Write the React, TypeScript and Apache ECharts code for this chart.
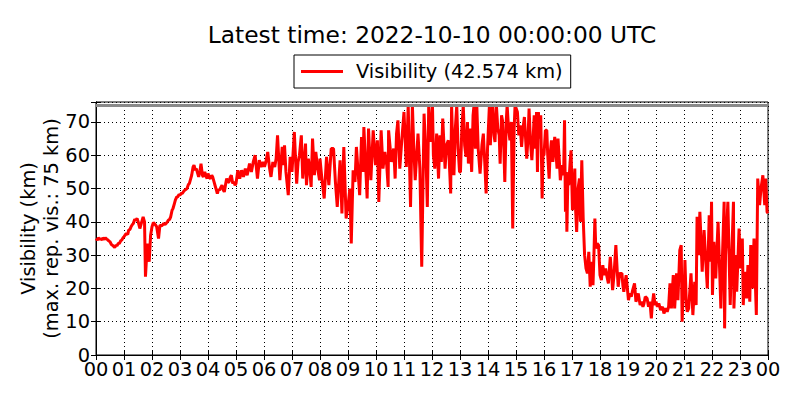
import { useEffect, useRef } from "react";
import * as echarts from "echarts";

// [minute within hour, visibility km]
const h00 = [[0,35],[3,34.5],[5,35.2],[8,34.7],[10,35],[13,34.6],[15,35.2],[18,34.7],[20,35.2],[23,34.8],[25,34.6],[28,34.2],[30,34],[33,33.2],[35,33],[38,32.6],[40,32.3],[43,33],[45,32.8],[48,33.6],[50,33.5],[53,34.3],[55,34.5],[58,35.2]];
const h01 = [[0,35.5],[3,36.2],[5,36.5],[8,36.2],[10,37.5],[13,37.8],[15,38.5],[18,39.2],[20,39.5],[23,40.8],[25,40.5],[28,41],[30,40.2],[34,38],[38,40],[41,41.5],[44,40],[46,23.5],[50,33.5],[54,28],[57,36]];
const h02 = [[0,38.5],[3,39.8],[5,39.5],[8,39],[10,38.5],[14,35],[17,39],[21,38.8],[25,39.5],[28,39.2],[30,39.5],[33,40],[35,40.5],[38,40.8],[40,41.5],[43,43.5],[45,44],[48,45.5],[50,46.5],[53,47.5],[55,47.5],[58,48.2]];
const h03 = [[0,48],[3,48.6],[5,48.5],[8,49.2],[10,49.5],[13,49.8],[15,50],[18,51.2],[20,51.5],[23,53],[25,54],[28,56.5],[30,57],[33,55.5],[35,56],[38,54.5],[40,53.5],[43,55.5],[45,57.5],[48,54],[50,53.5],[53,55],[55,54],[58,53]];
const h04 = [[0,54.5],[3,53.2],[5,53],[8,54],[10,53.5],[13,52],[15,51],[18,49.5],[20,48.5],[23,49.8],[25,49.5],[28,50.5],[30,51],[33,49.5],[35,49],[38,51.5],[40,53],[43,51.8],[45,52],[48,53.5],[50,54],[53,51.5],[55,52],[58,51]];
const h05 = [[0,51.5],[4,55.5],[8,53],[12,55.5],[16,53.5],[20,56],[24,54],[29,57.5],[33,55],[37,58],[41,60],[46,53],[50,58.5],[54,56.5],[58,58]];
const h06 = [[1,56.5],[4,58],[8,61],[12,56],[15,53.5],[19,58],[23,56.5],[26,59],[29,66],[34,52.5],[39,62.5],[42,57],[44,63],[47,55],[52,48],[56,59.5]];
const h07 = [[0,55],[5,67],[10,51.5],[13,58],[16,60],[20,66],[23,53],[26,58],[29,63.5],[31,51],[35,59],[38,56],[41,50.5],[44,65],[48,54],[51,61],[55,56],[59,52.5]];
const h08 = [[0,59],[4,53],[9,47],[14,59.5],[19,51],[24,62],[29,62],[33,52],[37,44.5],[43,58.5],[47,42.5],[51,62.5],[56,41]];
const h09 = [[1,46],[4,50],[7,33.5],[11,55.5],[15,52],[18,62.5],[25,48],[29,65.5],[32,55],[34,68.5],[41,47],[44,68],[49,52.5],[54,67.5],[59,57]];
const h10 = [[3,64.5],[6,46],[11,67.5],[15,56],[19,61],[23,57],[26,50.5],[27,67.5],[33,58],[38,62],[41,53],[44,66.5],[47,70.5],[51,56],[55,64]];
const h11 = [[0,73],[5,56.5],[9,75],[14,44.5],[18,75],[21,62],[24,52.5],[30,66.5],[34,56],[38,26.5],[43,72.5],[47,60],[50,44.5],[53,75],[56,64],[59,70]];
const h12 = [[1,75],[3,60],[6,56],[10,66.5],[14,53],[17,66],[20,58],[23,71],[28,56],[31,63],[35,64.5],[38,55],[40,48.5],[42,75],[45,60],[47,54],[50,68],[53,75],[56,62],[59,55]];
const h13 = [[1,55],[4,68],[7,75],[10,63],[13,59.5],[16,70],[18,57.5],[21,68],[25,55],[28,72],[30,75],[33,62],[36,75],[39,62],[43,54.5],[47,63],[50,66.5],[53,58],[56,48.5],[59,62]];
const h14 = [[3,75],[5,63],[8,72],[10,75],[13,66],[15,64],[18,75],[21,68],[24,66],[26,57.5],[29,72],[31,70.5],[34,62],[36,52],[39,70],[41,75],[44,68],[47,64.5],[50,70],[53,38],[56,68],[58,75]];
const h15 = [[3,73],[6,66],[9,69],[12,62.5],[15,68],[18,71.5],[21,64],[23,59],[26,66],[28,74],[31,64],[34,58.5],[37,66],[39,72],[42,62],[44,73],[46,55],[48,73],[51,65],[53,72],[56,47],[58,60]];
const h16 = [[0,60],[3,67.5],[6,67.5],[8,60],[11,53],[13,60],[16,64.5],[19,58],[23,65.5],[26,60],[28,56],[30,65],[33,58],[35,52.5],[39,57],[42,54],[44,70.5],[46,43],[48,55],[49,37],[51,52],[53,51],[56,58],[58,61.5]];
const h17 = [[1,43.5],[4,50],[6,56],[7,46],[10,37],[13,50],[16,53],[18,40],[21,58.5],[24,41],[27,30],[30,26],[33,24.5],[36,31],[39,20.5],[41,26],[43,28],[45,21],[47,30],[49,41],[51,32],[54,33.5],[57,33]];
const h18 = [[0,24],[3,22.5],[6,27],[9,24],[12,26],[15,23.5],[18,21.5],[22,29.5],[25,24],[27,19.5],[30,24],[34,33],[37,25],[39,20.5],[42,24.5],[47,24.5],[49,21],[51,19],[54,22],[56,24]];
const h19 = [[1,16.5],[4,18.5],[7,17.5],[10,19.5],[14,21.5],[17,16],[19,17],[22,18.5],[26,15],[29,16],[32,14.5],[34,15.3],[37,17.5],[41,17],[44,14.5],[47,16],[50,11],[52,15],[55,18.5],[58,15]];
const h20 = [[0,16],[3,14.5],[6,15.5],[10,13.5],[14,14.5],[17,12.5],[21,14],[24,13],[27,14.5],[30,21.5],[33,14],[37,24],[40,14],[44,24.5],[47,16.5],[51,31.5],[54,33],[56,10],[58,18]];
const h21 = [[0,16.5],[2,28.5],[5,15],[7,13],[10,14],[15,24.5],[19,12],[23,22],[26,15],[28,41.5],[31,30],[34,43],[39,25],[43,37.5],[50,20],[54,42],[57,28],[59,46]];
const h22 = [[1,18],[4,34],[8,23],[13,40],[19,14],[26,46],[27,8],[29,30],[34,46],[39,15],[46,46],[47,14],[51,30],[53,19],[58,38]];
const h23 = [[1,26],[5,35],[7,15],[10,25],[14,17],[17,27],[21,16],[23,33],[27,20],[30,35],[35,12],[38,53],[42,45],[45,50],[49,54],[53,45],[55,53],[58,43]];

const HOURS = [h00,h01,h02,h03,h04,h05,h06,h07,h08,h09,h10,h11,h12,h13,h14,h15,h16,h17,h18,h19,h20,h21,h22,h23];
const LATEST_VALUE = 42.574;
const MAX_REPORTED = 75;
const TITLE = "Latest time: 2022-10-10 00:00:00 UTC";
const Y_TICKS = [0, 10, 20, 30, 40, 50, 60, 70];

const FONT = "DejaVu Sans";

export default function App() {
  const ref = useRef<HTMLDivElement>(null);
  useEffect(() => {
    if (!ref.current) return;
    const chart = echarts.init(ref.current, null, { renderer: "svg" });
    const data: number[][] = [];
    HOURS.forEach((pts, hour) => {
      pts.forEach(([m, v]) => data.push([hour + m / 60, v]));
    });
    data.push([24, LATEST_VALUE]);
    const seriesName = `Visibility (${LATEST_VALUE.toFixed(3)} km)`;
    const gridLine = { show: true, lineStyle: { color: "#000", width: 1, type: [1, 3] as any } };
    chart.setOption({
      animation: false,
      title: {
        text: TITLE,
        left: 432,
        top: 23,
        textAlign: "center",
        padding: 0,
        textStyle: { fontFamily: FONT, fontSize: 23.3, fontWeight: "normal", color: "#000" },
      },
      legend: {
        data: [seriesName],
        left: 294,
        top: 55,
        padding: [7, 8, 7, 7],
        itemWidth: 42,
        itemHeight: 3,
        icon: "rect",
        borderColor: "#000",
        borderWidth: 1,
        borderRadius: 0,
        backgroundColor: "#fff",
        textStyle: { fontFamily: FONT, fontSize: 19.4, color: "#000", padding: [0, 0, 0, 8] },
      },
      grid: {
        left: 96,
        top: 102,
        width: 672,
        height: 253,
        show: true,
        borderColor: "#000",
        borderWidth: 1,
        backgroundColor: "transparent",
      },
      xAxis: [
        {
          type: "value",
          min: 0,
          max: 24,
          interval: 1,
          axisLine: { show: true, lineStyle: { color: "#000" } },
          axisTick: { show: true, inside: true, length: 5, lineStyle: { color: "#000" } },
          axisLabel: {
            fontFamily: FONT,
            fontSize: 19.4,
            color: "#000",
            margin: 5,
            formatter: (v: number) => String(Math.round(v) % 24).padStart(2, "0"),
          },
          splitLine: gridLine,
        },
        {
          type: "value",
          position: "top",
          min: 0,
          max: 24,
          interval: 1,
          axisLine: { show: true, lineStyle: { color: "#000" } },
          axisTick: { show: true, inside: true, length: 5, lineStyle: { color: "#000" } },
          axisLabel: { show: false },
          splitLine: { show: false },
        },
      ],
      yAxis: [
        {
          type: "value",
          min: 0,
          max: 76,
          interval: 10,
          name: "Visibility (km)\n(max. rep. vis.: 75 km)",
          nameLocation: "middle",
          nameRotate: 90,
          nameGap: 33,
          nameMoveOverlap: false,
          nameTextStyle: { fontFamily: FONT, fontSize: 19.4, color: "#000", lineHeight: 23 },
          axisLine: { show: true, lineStyle: { color: "#000" } },
          axisTick: { show: true, inside: true, length: 5, lineStyle: { color: "#000" } },
          axisLabel: {
            fontFamily: FONT,
            fontSize: 19.4,
            color: "#000",
            margin: 6,
            formatter: (v: number) => (Y_TICKS.includes(v) ? String(v) : ""),
          },
          splitLine: gridLine,
        },
        {
          type: "value",
          position: "right",
          min: 0,
          max: 76,
          interval: 10,
          axisLine: { show: true, lineStyle: { color: "#000" } },
          axisTick: { show: true, inside: true, length: 5, lineStyle: { color: "#000" } },
          axisLabel: { show: false },
          splitLine: { show: false },
        },
      ],
      series: [
        {
          name: seriesName,
          type: "line",
          data,
          showSymbol: false,
          symbol: "none",
          clip: true,
          itemStyle: { color: "#ff0000" },
          lineStyle: { color: "#ff0000", width: 3 },
          z: 2,
        },
        {
          name: "max",
          type: "line",
          data: [],
          z: 3,
          markLine: {
            silent: true,
            symbol: "none",
            label: { show: false },
            lineStyle: { color: "#8a8a8a", width: 3, type: "solid" },
            data: [{ yAxis: MAX_REPORTED }],
          },
        },
      ],
    });
    return () => chart.dispose();
  }, []);
  return <div ref={ref} style={{ position: "fixed", left: 0, top: 0, width: 800, height: 400, background: "#fff" }} />;
}
